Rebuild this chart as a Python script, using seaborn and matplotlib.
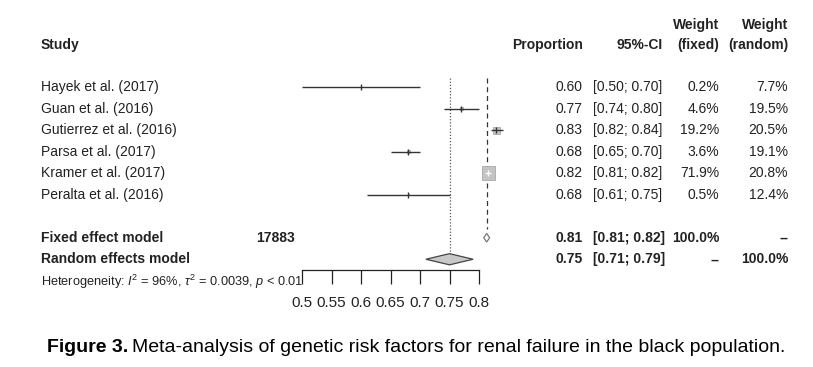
import matplotlib
matplotlib.use("Agg")
import matplotlib.pyplot as plt
import matplotlib.transforms as mtransforms
import numpy as np
import pandas as pd
import seaborn as sns

# data
studies = ["Hayek et al. (2017)", "Guan et al. (2016)", "Gutierrez et al. (2016)",
           "Parsa et al. (2017)", "Kramer et al. (2017)", "Peralta et al. (2016)"]
prop = [0.60, 0.77, 0.829, 0.68, 0.816, 0.68]
ci_lo = [0.50, 0.74, 0.82, 0.65, 0.811, 0.61]
ci_hi = [0.70, 0.80, 0.84, 0.70, 0.821, 0.75]
w_fixed = [0.2, 4.6, 19.2, 3.6, 71.9, 0.5]
w_random = [7.7, 19.5, 20.5, 19.1, 20.8, 12.4]

fixed_est, fixed_lo, fixed_hi = 0.813, 0.808, 0.818
random_est, random_lo, random_hi = 0.75, 0.71, 0.79
n_total = 17883
ticks = [0.5, 0.55, 0.6, 0.65, 0.7, 0.75, 0.8]

sns.set_theme(style="white")
plt.rcParams["font.family"] = ["Liberation Sans", "DejaVu Sans"]
plt.rcParams["mathtext.fontset"] = "custom"
plt.rcParams["mathtext.rm"] = "Liberation Sans"
plt.rcParams["mathtext.it"] = "Liberation Sans:italic"

W, H = 813, 367
fig = plt.figure(figsize=(W / 100, H / 100), dpi=100)
fx = lambda px: px / W
fy = lambda py: 1 - py / H

# forest axes: x 0.5 -> px 302, 0.8 -> px 479 ; rows 0.2..9.5 -> px 70..270
ax = fig.add_axes([fx(302), fy(270), fx(479) - fx(302), (270 - 70) / H])
ax.set_xlim(0.5, 0.8)
ax.set_ylim(9.5, 0.2)

rows = np.arange(1, len(studies) + 1)
df = pd.DataFrame({"study": studies, "prop": prop, "lo": ci_lo, "hi": ci_hi,
                   "wf": w_fixed, "row": rows})

# reference lines
ax.vlines(fixed_est, 0.55, 7.6, colors="#333333", linestyles=(0, (4, 3)), lw=0.9, clip_on=False)
ax.vlines(random_est, 0.55, 8.7, colors="#555555", linestyles=(0, (1, 1.5)), lw=0.9, clip_on=False)

sns.scatterplot(data=df, x="prop", y="row", size="wf", sizes=(0, 135), size_norm=(0, 100),
                marker="s", color="#c4c4c4", edgecolor="#a8a8a8", linewidth=0.6,
                legend=False, ax=ax, clip_on=False, zorder=3)

px_per_unit = 177 / 0.3
for _, r in df.iterrows():
    side_px = np.sqrt(r.wf * 1.35) * 100 / 72
    inside = (r.hi - r.lo) * px_per_unit < side_px
    col = "white" if inside else "#333333"
    ax.hlines(r.row, r.lo, r.hi, colors=col, lw=1.0, clip_on=False, zorder=4)
    ax.plot([r.prop], [r.row], marker="|", ms=5, mew=1.0, color=col, clip_on=False, zorder=4)

# summary diamonds
ax.fill([fixed_lo, fixed_est, fixed_hi, fixed_est], [8, 8 - 0.2, 8, 8 + 0.2],
        facecolor="white", edgecolor="#777777", lw=0.9, clip_on=False, zorder=4)
ax.fill([random_lo, random_est, random_hi, random_est], [9, 9 - 0.26, 9, 9 + 0.26],
        facecolor="#c8c8c8", edgecolor="#444444", lw=0.9, clip_on=False, zorder=4)

# axis
for s in ["top", "left", "right"]:
    ax.spines[s].set_visible(False)
ax.spines["bottom"].set_color("#222222")
ax.spines["bottom"].set_linewidth(0.9)
ax.set_xticks(ticks)
ax.set_xticklabels([f"{t:g}" for t in ticks], fontsize=11, color="#222222")
ax.tick_params(axis="x", direction="out", length=10, width=0.9, color="#222222", pad=9, bottom=True)
ax.set_yticks([])
ax.set_xlabel("")
ax.set_ylabel("")
ax.patch.set_alpha(0)

# table text
tr = mtransforms.blended_transform_factory(fig.transFigure, ax.transData)
tc = "#222222"
fs = 10
hdr1, hdr2 = -1.88, -0.95

def put(x, y, s, ha="left", bold=False, size=fs):
    ax.text(fx(x), y, s, transform=tr, ha=ha, va="center", fontsize=size,
            fontweight="bold" if bold else "normal", color=tc, clip_on=False)

put(41, hdr2, "Study", bold=True)
put(583, hdr2, "Proportion", ha="right", bold=True)
put(663, hdr2, "95%-CI", ha="right", bold=True)
put(719, hdr1, "Weight", ha="right", bold=True)
put(719, hdr2, "(fixed)", ha="right", bold=True)
put(788, hdr1, "Weight", ha="right", bold=True)
put(788, hdr2, "(random)", ha="right", bold=True)

for i, s in enumerate(studies):
    y = rows[i]
    put(41, y, s)
    put(583, y, f"{prop[i]:.2f}", ha="right")
    put(593, y, f"[{ci_lo[i]:.2f}; {ci_hi[i]:.2f}]")
    put(719, y, f"{w_fixed[i]:.1f}%", ha="right")
    put(788, y, f"{w_random[i]:.1f}%", ha="right")

put(41, 8, "Fixed effect model", bold=True)
put(295, 8, str(n_total), ha="right", bold=True)
put(583, 8, f"{fixed_est:.2f}", ha="right", bold=True)
put(593, 8, f"[{fixed_lo:.2f}; {fixed_hi:.2f}]", bold=True)
put(719, 8, "100.0%", ha="right", bold=True)
put(788, 8, "--", ha="right", bold=True)

put(41, 9, "Random effects model", bold=True)
put(583, 9, f"{random_est:.2f}", ha="right", bold=True)
put(593, 9, f"[{random_lo:.2f}; {random_hi:.2f}]", bold=True)
put(719, 9, "--", ha="right", bold=True)
put(788, 9, "100.0%", ha="right", bold=True)

put(41, 10.05, r"Heterogeneity: $I^2$ = 96%, $\tau^2$ = 0.0039, $p$ < 0.01", size=9.2)

# caption
cap1 = fig.text(fx(47), fy(347), "Figure 3.", fontsize=14, fontweight="bold",
                color="black", va="center")
fig.canvas.draw()
bb = cap1.get_window_extent()
fig.text((bb.x1 + 4) / W, fy(347), "Meta-analysis of genetic risk factors for renal failure in the black population.",
         fontsize=14, color="black", va="center")

fig.savefig("out.png", dpi=100)
